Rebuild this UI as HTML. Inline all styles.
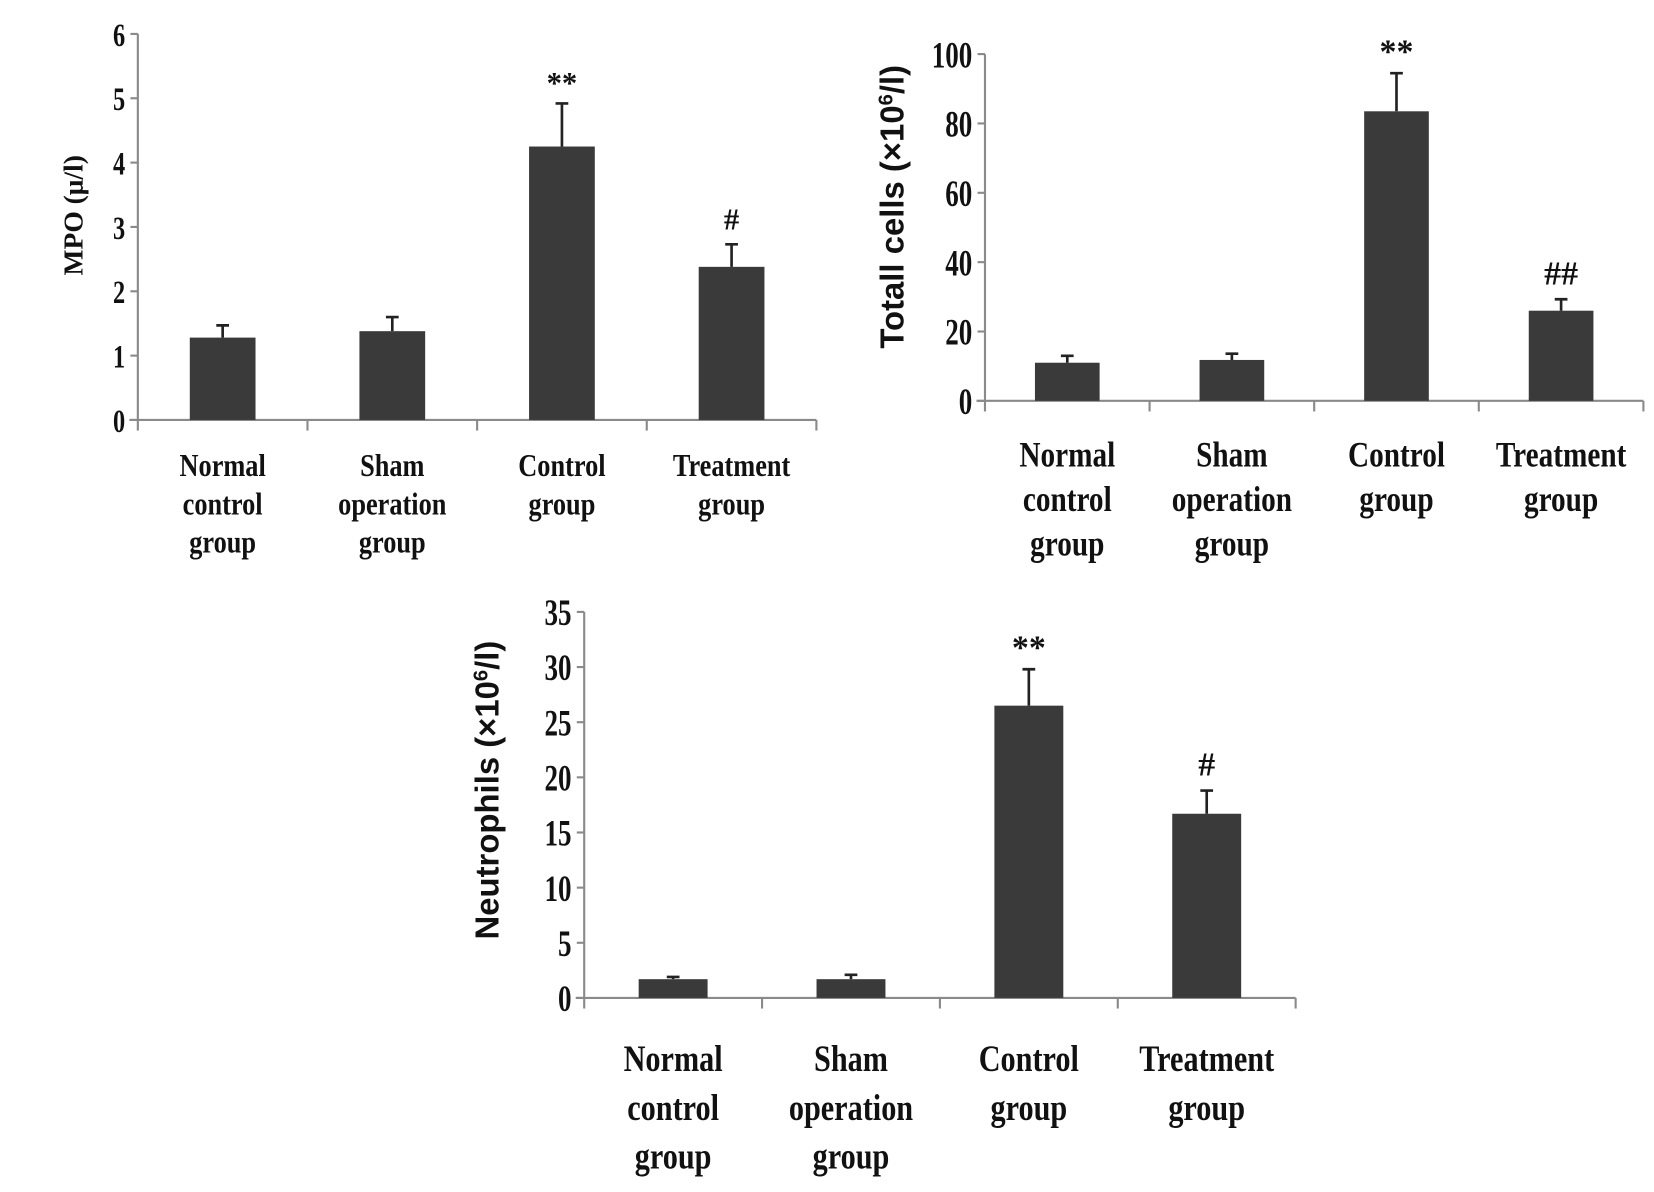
<!DOCTYPE html>
<html><head><meta charset="utf-8"><style>
html,body{margin:0;padding:0;background:#fff;}
svg{display:block;}
.tick{font-family:"Liberation Serif",serif;font-weight:bold;fill:#111;}
.cat{font-family:"Liberation Serif",serif;font-weight:bold;fill:#111;}
</style></head><body>
<svg id="fig" width="1654" height="1192" viewBox="0 0 1560 1124" preserveAspectRatio="none" xmlns="http://www.w3.org/2000/svg"></svg>
<script>
const categories = [["Normal","control","group"],["Sham","operation","group"],["Control","group"],["Treatment","group"]];
const mpoValues = [1.28, 1.38, 4.25, 2.38];
const mpoErrors = [0.19, 0.22, 0.67, 0.35];
const mpoTicks = [0,1,2,3,4,5,6];
const mpoMarks = ["","","**","#"];
const totalValues = [11, 11.8, 83.5, 26];
const totalErrors = [2, 1.8, 11, 3.3];
const totalTicks = [0,20,40,60,80,100];
const totalMarks = ["","","**","##"];
const neutValues = [1.7, 1.7, 26.5, 16.7];
const neutErrors = [0.2, 0.4, 3.3, 2.1];
const neutTicks = [0,5,10,15,20,25,30,35];
const neutMarks = ["","","**","#"];

const NS="http://www.w3.org/2000/svg";
const svg=document.getElementById('fig');
function mk(tag,attrs,parent){const e=document.createElementNS(NS,tag);for(const k in attrs)e.setAttribute(k,attrs[k]);(parent||svg).appendChild(e);return e;}

function chart(cfg,values,errors,ticks,marks){
  const g=mk('g',{});
  
  
  const max=ticks[ticks.length-1];
  const y=v=>cfg.y0-(v/max)*(cfg.y0-cfg.yTop);
  const bw=(cfg.x1-cfg.x0)/values.length;
  const xc=i=>cfg.x0+bw*(i+0.5);
  const ya=mk('line',{x1:cfg.x0,y1:cfg.yTop,x2:cfg.x0,y2:cfg.y0,stroke:'#8a8a8a','stroke-width':2},g);
  
  
  const xa=mk('line',{x1:cfg.x0-8,y1:cfg.y0,x2:cfg.x1,y2:cfg.y0,stroke:'#8a8a8a','stroke-width':2},g);
  
  
  ticks.forEach(t=>{
    mk('line',{x1:cfg.x0-7,y1:y(t),x2:cfg.x0,y2:y(t),stroke:'#8a8a8a','stroke-width':2},g);
    const tl=mk('text',{x:cfg.x0-12,y:y(t)+cfg.fs*0.36,'text-anchor':'end','font-size':cfg.fs,class:'tick',transform:`translate(${cfg.x0-12} ${y(t)}) scale(0.85 1.15) translate(${-(cfg.x0-12)} ${-y(t)})`},g);
    tl.textContent=t;
    
    
  });
  for(let i=0;i<=values.length;i++){
    mk('line',{x1:cfg.x0+bw*i,y1:cfg.y0,x2:cfg.x0+bw*i,y2:cfg.y0+10,stroke:'#8a8a8a','stroke-width':2},g);
  }
  values.forEach((v,i)=>{
    const b=mk('rect',{x:xc(i)-cfg.bar/2,y:y(v),width:cfg.bar,height:cfg.y0-y(v),fill:'#3a3a3a'},g);
    
    
    const eTop=y(v+errors[i]);
    const eb=mk('path',{d:`M${xc(i)} ${y(v)}V${eTop}M${xc(i)-6} ${eTop}H${xc(i)+6}`,stroke:'#222','stroke-width':2.5,fill:'none'},g);
    
    
    if(marks[i]){
      const m=mk('text',{x:xc(i),y:eTop-(marks[i]==='**'?10:14),'text-anchor':'middle','font-size':cfg.fs+2,class:'tick','font-weight':'normal'},g);
      m.textContent=marks[i];
      
      
    }
    categories[i].forEach((line,j)=>{
      const ly=cfg.labY+j*cfg.labGap;
      const c=mk('text',{x:xc(i),y:ly,'text-anchor':'middle','font-size':cfg.lfs,class:'cat',transform:`translate(${xc(i)} ${ly}) scale(0.92 1.12) translate(${-xc(i)} ${-ly})`},g);
      c.textContent=line;
      
      
    });
  });
  const tt=mk('text',{x:cfg.tx,y:cfg.ty,'text-anchor':'middle','font-size':cfg.tfs,'font-weight':'bold','font-family':cfg.tfont,fill:'#111',transform:`rotate(-90 ${cfg.tx} ${cfg.ty})`},g);
  tt.innerHTML=cfg.title;
  
  
}

chart({name:'mpo-chart',x0:130,x1:770,yTop:32,y0:396,bar:62,fs:27,lfs:27,labY:449,labGap:36,
  tx:78,ty:203,tfs:26,tfont:'"Liberation Serif",serif',title:'MPO (μ/l)'},mpoValues,mpoErrors,mpoTicks,mpoMarks);
chart({name:'total-cells-chart',x0:929,x1:1550,yTop:51,y0:378,bar:61,fs:30,lfs:30,labY:440,labGap:42,
  tx:852,ty:195,tfs:31,tfont:'"Liberation Sans",sans-serif',title:'Totall cells (×10<tspan dy="-10" font-size="19">6</tspan><tspan dy="10">/l)</tspan>'},totalValues,totalErrors,totalTicks,totalMarks);
chart({name:'neutrophils-chart',x0:551,x1:1222,yTop:577,y0:941,bar:65,fs:30,lfs:31,labY:1010,labGap:46,
  tx:470,ty:745,tfs:31,tfont:'"Liberation Sans",sans-serif',title:'Neutrophils (×10<tspan dy="-10" font-size="19">6</tspan><tspan dy="10">/l)</tspan>'},neutValues,neutErrors,neutTicks,neutMarks);
</script>
</body></html>
